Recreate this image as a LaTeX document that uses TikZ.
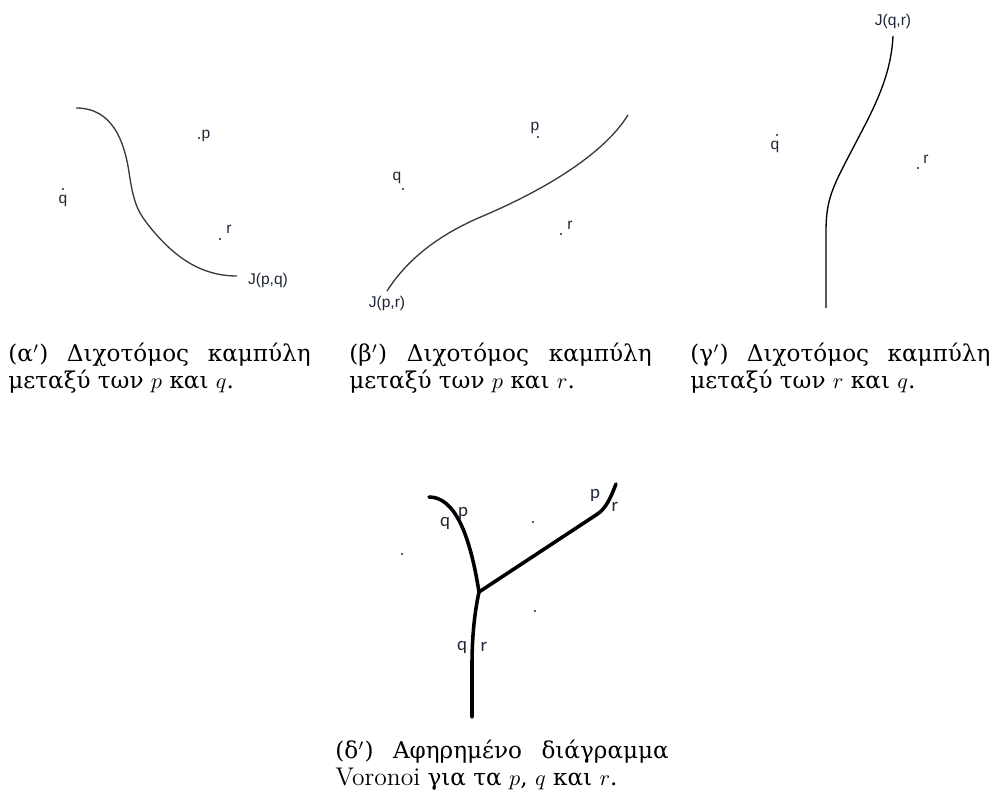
\documentclass[tikz,border=0pt]{standalone}
\usepackage{fontspec}
\usepackage{amsmath}
\usetikzlibrary{calc}
\newfontfamily\grfont{DejaVu Serif}
\newfontfamily\jfont{Liberation Sans}
\newfontfamily\sfont{Carlito}
\definecolor{ink}{HTML}{1E2638}
\definecolor{curve}{HTML}{3A3A3A}
\tikzset{bis/.style={draw=curve,line width=.6pt},
  vor/.style={draw=black,line width=1.6pt,line cap=round,line join=round},
  lbl/.style={font=\jfont\fontsize{7}{8}\selectfont,text=ink,inner sep=0pt},
  lbd/.style={font=\sfont\fontsize{8.5}{9}\selectfont,text=ink,inner sep=0pt},
  site/.style={circle,fill=ink,inner sep=0pt,minimum size=1.1pt},
  capline/.style={font=\grfont\fontsize{10.4}{12}\selectfont,anchor=base west,inner sep=0pt}}
\newcommand{\capt}[6]{%
\node[capline] (#1a) at (#2,#3) {\makebox[#4][s]{#5}};
\node[capline] (#1b) at (#2,#3+27) {#6};}

\begin{document}
\begin{tikzpicture}[x=.45pt,y=-.45pt]
\useasboundingbox (0,0) rectangle (993,806);
% (a) p and q
\node[site] (pa) at (199,138) {};\node[lbl] (pal) at (206,136) {p};
\node[site] (qa) at (63,189) {};\node[lbl] (qal) at (63,201) {q};
\node[site] (ra) at (220,239) {};\node[lbl] (ral) at (229,229) {r};
\coordinate (ja0) at (76,108);\coordinate (ja1) at (237,276);
\draw[bis] (ja0) .. controls (112,108) and (124,140) .. (129,172)
  .. controls (133,200) and (137,210) .. (146,222)
  .. controls (172,256) and (200,276) .. (ja1);
\node[lbl] (jal) at (268,280) {J(p,q)};
\capt{ca}{8}{362}{136pt}{(α$'$) Διχοτόμος καμπύλη}{μεταξύ των $p$ και $q$.}
% (b) p and r
\node[site] (pb) at (538,137) {};\node[lbl] (pbl) at (535,128) {p};
\node[site] (qb) at (403,189) {};\node[lbl] (qbl) at (397,178) {q};
\node[site] (rb) at (561,234) {};\node[lbl] (rbl) at (570,225) {r};
\coordinate (jb0) at (387,291);\coordinate (jb1) at (628,115);
\draw[bis] (jb0) .. controls (410,255) and (445,232) .. (483,216)
  .. controls (530,196) and (600,160) .. (jb1);
\node[lbl] (jbl) at (387,303) {J(p,r)};
\capt{cb}{349}{362}{136pt}{(β$'$) Διχοτόμος καμπύλη}{μεταξύ των $p$ και $r$.}
% (c) r and q
\node[site] (qc) at (777,135) {};\node[lbl] (qcl) at (775,147) {q};
\node[site] (rc) at (918,168) {};\node[lbl] (rcl) at (926,159) {r};
\coordinate (jc0) at (893,36);\coordinate (jc1) at (826,308);
\draw[bis,draw=black] (jc0) .. controls (891,80) and (870,115) .. (852,150)
  .. controls (832,188) and (826,200) .. (826,232) -- (jc1);
\node[lbl] (jcl) at (893,21) {J(q,r)};
\capt{cc}{690}{362}{135pt}{(γ$'$) Διχοτόμος καμπύλη}{μεταξύ των $r$ και $q$.}
% (d) Voronoi
\node[site] (pd) at (533,522) {};
\node[site] (qd) at (402,554) {};
\node[site] (rd) at (535,611) {};
\coordinate (v) at (479,592);
\coordinate (e1) at (429,497);\coordinate (e2) at (616,484);\coordinate (e3) at (472,717);
\draw[vor] (e1) .. controls (455,497) and (470,535) .. (v);
\draw[vor] (v) -- (596,515) .. controls (606,509) and (611,497) .. (e2);
\draw[vor] (v) .. controls (474,615) and (472,640) .. (472,665) -- (e3);
\node[lbd] (l1) at (445,523) {q};\node[lbd] (l2) at (463,513) {p};
\node[lbd] (l3) at (595,495) {p};\node[lbd] (l4) at (615,507) {r};
\node[lbd] (l5) at (462,647) {q};\node[lbd] (l6) at (484,647) {r};
\capt{cd}{335}{759}{150pt}{(δ$'$) Αφηρημένο διάγραμμα}{{\rmfamily\fontsize{11.5}{12}\selectfont Voronoi} για τα $p$, $q$ και $r$.}
\end{tikzpicture}
\end{document}
